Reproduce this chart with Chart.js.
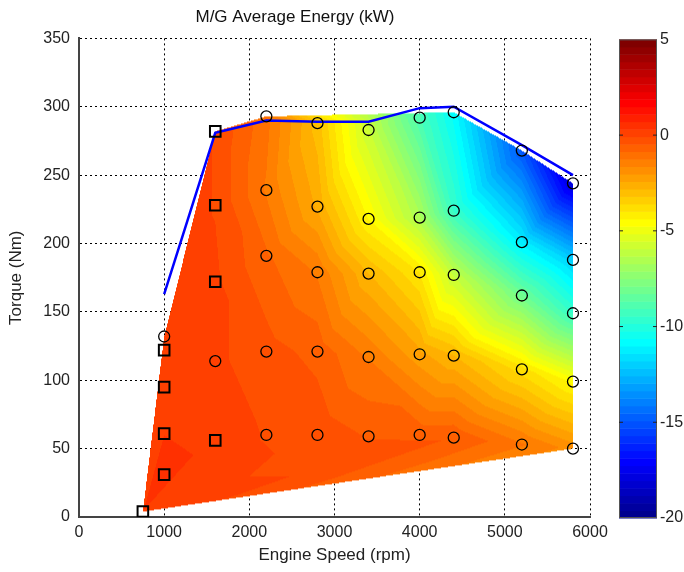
<!DOCTYPE html>
<html>
<head>
<meta charset="utf-8">
<script src="https://cdn.jsdelivr.net/npm/chart.js@4/dist/chart.umd.min.js"></script>
<style>
  html, body { margin: 0; padding: 0; background: #fff; }
  #wrap { width: 684px; height: 572px; }
</style>
</head>
<body>
<div id="wrap"><canvas id="chart" width="684" height="572"></canvas></div>
<script>
// operating points (engine speed rpm, torque Nm, M/G average energy kW)
const squareSpeed  = [750, 1000, 1000, 1000, 1000, 1600, 1600, 1600, 1600];
const squareTorque = [4, 31, 61, 95, 122, 56, 172, 228, 282];
const squareEnergy = [0.3, 0.6, 0.3, 0.2, 0.2, 0.1, 0.0, -0.1, -0.1];

const circleSpeed = [1000, 1600,
    2200, 2200, 2200, 2200, 2200,
    2800, 2800, 2800, 2800, 2800,
    3400, 3400, 3400, 3400, 3400,
    4000, 4000, 4000, 4000, 4000,
    4400, 4400, 4400, 4400, 4400,
    5200, 5200, 5200, 5200, 5200,
    5800, 5800, 5800, 5800, 5800];
const circleTorque = [132, 114,
    60, 121, 191, 239, 293,
    60, 121, 179, 227, 288,
    59, 117, 178, 218, 283,
    60, 119, 179, 219, 292,
    58, 118, 177, 224, 296,
    53, 108, 162, 201, 268,
    50, 99, 149, 188, 244];
const circleEnergy = [0.2, 0.0,
    -0.1, -0.3, -0.8, -1.3, -1.1,
    -0.2, -0.6, -1.3, -2.5, -3.0,
    -0.5, -1.3, -2.8, -4.4, -5.9,
    -0.6, -2.3, -4.0, -6.6, -9.0,
    -0.5, -2.8, -6.0, -9.5, -10.8,
    -1.2, -3.8, -8.1, -11.2, -15.0,
    -1.8, -4.5, -9.5, -12.0, -18.0];

// full-load (max torque) curve
const wotSpeed  = [1000, 1600, 2200, 2800, 3400, 4000, 4400, 5200, 5800];
const wotTorque = [163, 281, 290, 289, 289, 299, 300, 272, 250];

// colour bar
const cbMin = -20, cbMax = 5;
const cbTicks = [5, 0, -5, -10, -15, -20];

const FONT = "'Liberation Sans', Arial, Helvetica, sans-serif";

// MATLAB jet, 64 entries
function jet(k) {
    const u = [];
    for (let i = 1; i <= 16; i++) u.push(i / 16);
    for (let i = 0; i < 15; i++) u.push(1);
    for (let i = 16; i >= 1; i--) u.push(i / 16);
    const j = k + 1;
    const at = (idx) => (idx >= 1 && idx <= 47 ? u[idx - 1] : 0);
    return [at(j - 24), at(j - 8), at(j + 8)].map(c => Math.round(c * 255));
}
const jetTable = Array.from({length: 64}, (_, k) => jet(k));
function colorOf(v) {
    let k = Math.floor((v - cbMin) / (cbMax - cbMin) * 64);
    k = Math.max(0, Math.min(63, k));
    return jetTable[k];
}

// Bowyer-Watson triangulation
function delaunay(xs, ys) {
    const n = xs.length;
    const pts = xs.map((x, i) => [x, ys[i]]);
    const big = 1e5;
    pts.push([-big, -big], [3 * big, -big], [-big, 3 * big]);
    const circ = (t) => {
        const [ax, ay] = pts[t[0]], [bx, by] = pts[t[1]], [cx, cy] = pts[t[2]];
        const d = 2 * (ax * (by - cy) + bx * (cy - ay) + cx * (ay - by));
        const a2 = ax * ax + ay * ay, b2 = bx * bx + by * by, c2 = cx * cx + cy * cy;
        const ux = (a2 * (by - cy) + b2 * (cy - ay) + c2 * (ay - by)) / d;
        const uy = (a2 * (cx - bx) + b2 * (ax - cx) + c2 * (bx - ax)) / d;
        return [ux, uy, (ax - ux) ** 2 + (ay - uy) ** 2];
    };
    let tris = [[n, n + 1, n + 2]].map(t => ({t, c: circ(t)}));
    for (let p = 0; p < n; p++) {
        const [x0, y0] = pts[p];
        const good = [], edges = new Map();
        for (const tr of tris) {
            const [ux, uy, r2] = tr.c;
            if ((x0 - ux) ** 2 + (y0 - uy) ** 2 < r2) {
                const t = tr.t;
                for (const [a, b] of [[t[0], t[1]], [t[1], t[2]], [t[2], t[0]]]) {
                    const key = a < b ? a + ',' + b : b + ',' + a;
                    if (edges.has(key)) edges.delete(key); else edges.set(key, [a, b]);
                }
            } else {
                good.push(tr);
            }
        }
        tris = good;
        for (const [a, b] of edges.values()) {
            const t = [a, b, p];
            tris.push({t, c: circ(t)});
        }
    }
    return tris.map(tr => tr.t).filter(t => t.every(v => v < n));
}

const allSpeed = squareSpeed.concat(circleSpeed);
const allTorque = squareTorque.concat(circleTorque);
const allEnergy = squareEnergy.concat(circleEnergy);

const contourFill = {
    id: 'contourFill',
    beforeDatasetsDraw(chart) {
        const {ctx, chartArea: a, scales: {x, y}} = chart;
        const px = allSpeed.map(v => x.getPixelForValue(v) - a.left);
        const py = allTorque.map(v => y.getPixelForValue(v) - a.top);
        const tris = delaunay(px, py);
        const w = Math.ceil(a.right - a.left), h = Math.ceil(a.bottom - a.top);
        const off = document.createElement('canvas');
        off.width = w; off.height = h;
        const octx = off.getContext('2d');
        const img = octx.createImageData(w, h);
        for (const [i, j, k] of tris) {
            const x1 = px[i], y1 = py[i], x2 = px[j], y2 = py[j], x3 = px[k], y3 = py[k];
            const det = (y2 - y3) * (x1 - x3) + (x3 - x2) * (y1 - y3);
            if (Math.abs(det) < 1e-9) continue;
            const x0 = Math.max(0, Math.floor(Math.min(x1, x2, x3)));
            const x9 = Math.min(w - 1, Math.ceil(Math.max(x1, x2, x3)));
            const y0 = Math.max(0, Math.floor(Math.min(y1, y2, y3)));
            const y9 = Math.min(h - 1, Math.ceil(Math.max(y1, y2, y3)));
            for (let yy = y0; yy <= y9; yy++) {
                for (let xx = x0; xx <= x9; xx++) {
                    const cx = xx + 0.5, cy = yy + 0.5;
                    const l1 = ((y2 - y3) * (cx - x3) + (x3 - x2) * (cy - y3)) / det;
                    const l2 = ((y3 - y1) * (cx - x3) + (x1 - x3) * (cy - y3)) / det;
                    const l3 = 1 - l1 - l2;
                    if (l1 < -1e-6 || l2 < -1e-6 || l3 < -1e-6) continue;
                    const v = l1 * allEnergy[i] + l2 * allEnergy[j] + l3 * allEnergy[k];
                    const c = colorOf(v);
                    const o = (yy * w + xx) * 4;
                    img.data[o] = c[0]; img.data[o + 1] = c[1]; img.data[o + 2] = c[2]; img.data[o + 3] = 255;
                }
            }
        }
        octx.putImageData(img, 0, 0);
        ctx.drawImage(off, a.left, a.top);
    },
    afterDraw(chart) {
        const {ctx, chartArea: a} = chart;
        // colour bar
        const left = 619, right = 657, top = a.top + 1, bottom = a.bottom + 1;
        const step = (bottom - top) / 64;
        for (let k = 0; k < 64; k++) {
            const c = jetTable[k];
            ctx.fillStyle = `rgb(${c[0]},${c[1]},${c[2]})`;
            ctx.fillRect(left, bottom - (k + 1) * step, right - left, step + 0.5);
        }
        ctx.strokeStyle = '#555';
        ctx.lineWidth = 1;
        ctx.strokeRect(left + 0.5, top + 0.5, right - left - 1, bottom - top - 1);
        ctx.fillStyle = '#222';
        ctx.font = '16px ' + FONT;
        ctx.textAlign = 'left';
        ctx.textBaseline = 'middle';
        ctx.strokeStyle = '#222';
        for (const t of cbTicks) {
            const yy = bottom - (t - cbMin) / (cbMax - cbMin) * (bottom - top);
            if (t !== cbMin && t !== cbMax) {
                ctx.beginPath();
                ctx.moveTo(left, yy); ctx.lineTo(left + 4, yy);
                ctx.moveTo(right, yy); ctx.lineTo(right - 4, yy);
                ctx.stroke();
            }
            ctx.fillText(String(t), right + 3, yy);
        }
    }
};

const config = {
    type: 'scatter',
    data: {
        datasets: [
            {
                label: 'squares',
                data: squareSpeed.map((s, i) => ({x: s, y: squareTorque[i]})),
                pointStyle: 'rect',
                pointRadius: 7.5,
                borderColor: '#000',
                borderWidth: 2,
                backgroundColor: 'rgba(0,0,0,0)'
            },
            {
                label: 'circles',
                data: circleSpeed.map((s, i) => ({x: s, y: circleTorque[i]})),
                pointStyle: 'circle',
                pointRadius: 5.5,
                borderColor: '#000',
                borderWidth: 1.3,
                backgroundColor: 'rgba(0,0,0,0)'
            },
            {
                label: 'max torque',
                data: wotSpeed.map((s, i) => ({x: s, y: wotTorque[i]})),
                showLine: true,
                borderColor: '#0000ff',
                borderWidth: 2.5,
                pointRadius: 0,
                fill: false
            }
        ]
    },
    options: {
        responsive: false,
        animation: false,
        layout: {padding: {left: 0, right: 94, top: 0, bottom: 0}},
        plugins: {
            legend: {display: false},
            tooltip: {enabled: false},
            title: {
                display: true,
                text: 'M/G Average Energy (kW)',
                color: '#111',
                font: {family: FONT, size: 17, weight: 'normal'},
                padding: {top: 7, bottom: 11}
            }
        },
        scales: {
            x: {
                type: 'linear',
                min: 0, max: 6000,
                afterFit: s => { s.height = 55; },
                ticks: {stepSize: 1000, color: '#222', padding: 6, maxRotation: 0,
                        callback: v => String(v),
                        font: {family: FONT, size: 16}},
                grid: {color: '#000', lineWidth: 1, drawTicks: false},
                border: {display: true, color: '#444', width: 2, dash: [2, 3]},
                title: {display: true, text: 'Engine Speed (rpm)', color: '#222',
                        font: {family: FONT, size: 17}, padding: {top: 0, bottom: 6}}
            },
            y: {
                type: 'linear',
                min: 0, max: 350,
                afterFit: s => { s.width = 79; },
                ticks: {stepSize: 50, color: '#222', padding: 9,
                        callback: v => String(v),
                        font: {family: FONT, size: 16}},
                grid: {color: '#000', lineWidth: 1, drawTicks: false},
                border: {display: true, color: '#444', width: 2, dash: [2, 3]},
                title: {display: true, text: 'Torque (Nm)', color: '#222',
                        font: {family: FONT, size: 17}, padding: {top: 6, bottom: 0}}
            }
        }
    },
    plugins: [contourFill]
};

const mgChart = new Chart(document.getElementById('chart'), config);
</script>
</body>
</html>
